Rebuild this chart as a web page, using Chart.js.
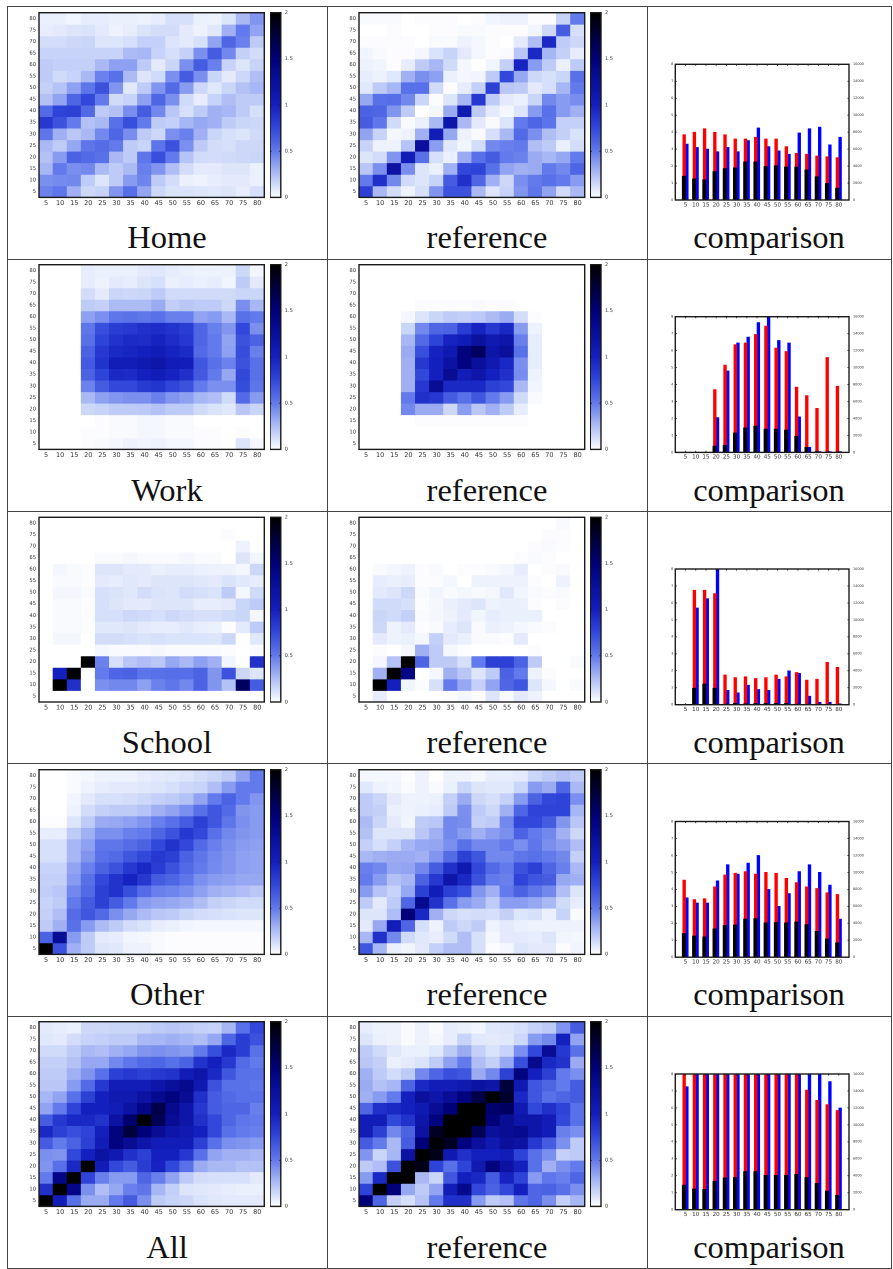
<!DOCTYPE html>
<html><head><meta charset="utf-8">
<style>
html,body{margin:0;padding:0;background:#fff;width:893px;height:1269px;overflow:hidden}
canvas{position:absolute}
.rule{position:absolute;background:#444}
.cap{position:absolute;text-align:center;font-family:"Liberation Serif",serif;font-size:32.5px;line-height:40px;color:#111;height:40px}
</style>
<script src="https://cdn.jsdelivr.net/npm/chart.js@4"></script>
</head><body>
<script>
const ageLabels=['5','10','15','20','25','30','35','40','45','50','55','60','65','70','75','80'];
const rowLevels=[80,75,70,65,60,55,50,45,40,35,30,25,20,15,10,5];
const rowNames=['Home','Work','School','Other','All'];
const refName='reference', cmpName='comparison';

const homeSim=[
[.06,.06,.04,.07,.07,.06,.06,.05,.07,.12,.12,.06,.05,.1,.27,.4],
[.07,.08,.1,.11,.08,.05,.07,.11,.13,.13,.08,.05,.09,.3,.5,.35],
[.13,.13,.15,.16,.1,.1,.12,.18,.18,.1,.08,.12,.35,.6,.48,.2],
[.17,.17,.17,.17,.17,.17,.26,.28,.17,.12,.18,.42,.65,.45,.18,.13],
[.2,.18,.18,.18,.27,.36,.36,.2,.08,.16,.42,.65,.48,.17,.1,.17],
[.2,.14,.17,.27,.47,.55,.26,.1,.14,.42,.65,.42,.16,.08,.15,.25],
[.18,.23,.36,.52,.7,.4,.09,.2,.4,.58,.38,.15,.09,.16,.24,.28],
[.24,.35,.6,.75,.5,.14,.17,.36,.6,.42,.14,.07,.17,.25,.2,.2],
[.58,.78,.8,.58,.2,.24,.43,.65,.45,.22,.12,.2,.3,.28,.2,.12],
[.85,.7,.5,.24,.27,.55,.72,.5,.2,.18,.28,.33,.3,.2,.16,.15],
[.52,.3,.22,.27,.45,.6,.43,.2,.15,.42,.48,.3,.16,.12,.1,.14],
[.27,.2,.33,.52,.57,.5,.2,.17,.53,.7,.42,.2,.13,.12,.15,.15],
[.24,.38,.62,.58,.55,.27,.2,.52,.72,.5,.23,.14,.13,.14,.15,.16],
[.28,.5,.42,.45,.26,.2,.26,.48,.4,.25,.13,.08,.08,.1,.1,.06],
[.42,.44,.45,.2,.1,.2,.38,.46,.2,.13,.06,.05,.07,.08,.08,.06],
[.47,.52,.3,.15,.17,.4,.56,.34,.15,.11,.11,.1,.09,.1,.07,.12]];
const homeRef=[
[.02,.02,.02,0,.01,.01,.01,0,.01,.04,.05,.05,.01,.01,.17,.5],
[0,0,.01,0,0,.01,.01,.02,.02,.01,.01,.01,.04,.15,.65,.12],
[.01,.01,.01,.01,0,.02,.02,.05,.03,.01,0,.08,.25,.95,.2,.15],
[.04,.02,.01,.01,.03,.11,.17,.08,.03,.01,.02,.22,.95,.28,.18,.07],
[.05,.04,.01,.07,.2,.28,.14,.03,0,.04,.18,.98,.38,.2,.06,.2],
[.07,.05,.09,.3,.42,.36,.06,.03,.04,.2,.75,.33,.15,.12,.16,.55],
[.09,.2,.28,.55,.55,.14,.01,.07,.18,.8,.22,.2,.08,.12,.28,.5],
[.33,.55,.56,.45,.16,.01,.1,.28,.85,.2,.08,.06,.16,.45,.38,.43],
[.62,.6,.4,.2,0,.03,.32,1.1,.2,.08,.03,.1,.38,.55,.38,.3],
[.65,.52,.14,.02,.06,.27,1.15,.27,.08,.02,.1,.5,.6,.53,.18,.18],
[.35,.17,.03,.05,.3,1.05,.33,.05,.02,.12,.27,.58,.42,.25,.18,.11],
[.17,.05,.05,.23,1.25,.37,.09,.04,.13,.45,.48,.5,.25,.2,.06,.13],
[.1,.13,.4,1.05,.55,.12,.06,.32,.55,.65,.5,.47,.32,.28,.33,.5],
[.22,.42,1.2,.43,.1,.06,.3,.75,.78,.55,.35,.3,.32,.5,.45,.6],
[.5,.9,.45,.14,.1,.17,.65,.9,.6,.3,.15,.42,.5,.55,.5,.38],
[.8,.27,.13,.05,.12,.4,.7,.7,.27,.1,.17,.4,.52,.35,.14,.27]];
const workSim=[
[0,0,0,.07,.06,.06,.06,.08,.09,.07,.06,.05,.05,.05,.15,.04],
[0,0,0,.07,.05,.08,.07,.1,.12,.06,.07,.06,.07,.04,.2,.08],
[0,0,0,.13,.08,.16,.15,.16,.2,.14,.14,.14,.14,.14,.16,.16],
[0,0,0,.2,.18,.26,.26,.26,.32,.19,.22,.2,.2,.15,.43,.28],
[0,0,0,.36,.42,.52,.54,.52,.55,.48,.48,.35,.38,.27,.55,.5],
[0,0,0,.52,.72,.82,.85,.9,.92,.88,.82,.6,.48,.4,.75,.42],
[0,0,0,.55,.78,.88,.93,.92,.98,.92,.85,.6,.5,.35,.7,.62],
[0,0,0,.62,.85,.95,.97,1,1.05,.98,.93,.58,.5,.36,.73,.48],
[0,0,0,.66,.88,1.05,1.05,1.1,1.15,1.05,1.03,.68,.55,.47,.7,.55],
[0,0,0,.62,.78,.95,.93,1,1.05,.98,.9,.66,.5,.33,.75,.55],
[0,0,0,.47,.65,.75,.75,.83,.87,.76,.7,.5,.42,.42,.73,.52],
[0,0,0,.27,.36,.4,.42,.42,.48,.4,.36,.28,.25,.14,.58,.38],
[0,0,0,.15,.17,.2,.2,.21,.24,.2,.2,.14,.11,.09,.22,.16],
[0,0,0,0,.01,.02,.02,.03,.03,.02,.02,0,0,0,0,0],
[0,0,0,.01,.01,.02,.02,.03,.03,.02,.02,.01,.01,0,.01,0],
[0,0,0,.01,.02,.03,.05,.04,.05,.03,.03,.01,.01,0,.1,.03]];
const workRef=[
[0,0,0,0,0,0,0,0,0,0,0,0,0,0,0,0],
[0,0,0,0,0,0,0,0,0,0,0,0,0,0,0,0],
[0,0,0,0,0,0,0,0,0,0,0,0,0,0,0,0],
[0,0,0,0,.01,.01,.01,.01,.02,.01,.01,0,0,0,0,0],
[0,0,0,.03,.1,.16,.2,.19,.21,.26,.32,.13,.01,0,0,0],
[0,0,0,.16,.45,.6,.62,.82,.98,.85,.95,.38,.05,0,0,0],
[0,0,0,.28,.58,.78,.98,1.05,1.22,1.1,1.15,.48,.07,0,0,0],
[0,0,0,.32,.72,.98,1.1,1.45,1.6,1.15,1.25,.55,.07,0,0,0],
[0,0,0,.3,.85,1,1.2,1.45,1.25,1.1,.95,.42,.07,0,0,0],
[0,0,0,.3,.75,1,1.3,1.05,1.15,1,.9,.43,.05,0,0,0],
[0,0,0,.3,.85,1.3,.95,.95,.95,.8,.75,.27,.04,0,0,0],
[0,0,0,.5,.9,.85,.65,.55,.68,.5,.38,.14,.02,0,0,0],
[0,0,0,.45,.32,.32,.15,.37,.22,.3,.2,.07,0,0,0,0],
[0,0,0,0,.01,.01,.01,.01,.01,.01,.01,.01,0,0,0,0],
[0,0,0,0,0,0,0,0,0,0,0,0,0,0,0,0],
[0,0,0,0,0,0,0,0,0,0,0,0,0,0,0,0]];
const schoolSim=[
[0,0,0,0,0,0,0,0,0,0,0,0,0,0,0,0],
[0,0,0,0,0,0,0,0,0,0,0,0,0,.01,0,0],
[0,0,0,0,0,0,0,0,0,0,0,0,0,0,.05,0],
[0,0,0,0,.02,.02,.03,.02,.02,.02,.03,.02,.02,0,.1,.04],
[0,.03,.02,.01,.1,.1,.08,.08,.06,.07,.07,.06,.05,.05,.03,.15],
[0,.02,.02,.01,.08,.07,.09,.08,.1,.1,.1,.09,.08,.11,.09,.07],
[0,.03,.03,.02,.12,.11,.09,.13,.11,.1,.13,.12,.11,.2,.03,.14],
[0,.02,.02,.01,.12,.1,.08,.08,.1,.1,.1,.07,.07,.08,.16,.2],
[0,.02,.02,.01,.12,.12,.15,.14,.12,.15,.13,.12,.12,.14,.16,.03],
[0,.02,.02,.01,.09,.09,.1,.08,.07,.07,.09,.07,.06,.01,.08,.2],
[0,.03,.03,0,.13,.13,.12,.11,.12,.11,.11,.11,.1,.15,0,.09],
[0,0,0,0,.03,.02,.02,.02,.03,.02,.02,.02,.02,.01,0,.02],
[0,0,0,2,.47,.12,.22,.25,.22,.33,.27,.36,.3,.04,0,.9],
[0,1,2,0,.5,.6,.62,.53,.55,.56,.56,.62,.4,.7,.15,.1],
[0,2,.9,0,.42,.45,.45,.36,.47,.52,.45,.62,.4,.24,1.6,.65],
[0,0,0,0,0,0,0,0,0,0,0,0,0,0,0,0]];
const schoolRef=[
[0,0,0,0,0,0,0,0,0,0,0,0,0,0,.02,0],
[0,0,0,0,0,0,0,0,0,0,0,0,0,.01,.01,0],
[0,0,0,0,0,0,0,0,0,0,0,0,.01,.02,.01,0],
[0,0,0,0,0,0,0,0,0,0,0,.01,.02,.01,0,0],
[0,.02,.03,.05,.01,.02,0,.01,.01,.02,.03,.07,0,.01,.02,0],
[0,.07,.06,.07,.01,.01,.03,0,.05,.05,.05,.05,.01,0,.05,0],
[0,.08,.1,.15,.02,.04,.02,.03,.02,.03,.09,.04,.02,.01,.02,0],
[0,.14,.14,.12,.01,.03,.06,.08,.1,.05,.06,.06,.01,0,.01,0],
[0,.16,.14,.18,.02,.03,.05,.08,.04,.07,.06,.06,.06,0,0,0],
[0,.15,.05,.08,.01,.02,.07,.1,.02,.06,.05,.03,.02,.01,0,0],
[0,.08,.05,.06,.03,.18,.08,.06,.02,.02,.01,.08,0,0,0,0],
[0,.01,0,.03,.3,.2,.03,.01,0,0,0,0,.01,0,0,0],
[0,.03,.23,2,.6,.2,.2,.12,.5,.8,.8,.62,.2,0,0,.02],
[0,.3,2,1.4,0,.03,.3,.22,.1,.2,.62,.5,.05,.01,0,0],
[0,2,1,.04,.01,.12,.5,.33,.18,.35,.6,.68,.1,.03,0,.02],
[0,.07,0,0,0,0,.01,.03,.01,.1,.02,.08,.05,0,0,0]];
const otherSim=[
[0,0,.02,.03,.05,.05,.05,.07,.08,.09,.1,.13,.16,.2,.35,.5],
[0,0,.02,.05,.07,.08,.08,.09,.1,.12,.15,.17,.25,.38,.5,.5],
[0,0,.04,.08,.12,.12,.13,.15,.18,.2,.24,.35,.5,.62,.5,.4],
[0,0,.05,.13,.18,.2,.2,.23,.3,.35,.42,.55,.68,.58,.4,.38],
[.01,.01,.1,.2,.32,.33,.36,.4,.48,.55,.65,.8,.68,.52,.42,.38],
[.07,.07,.2,.3,.42,.42,.48,.5,.6,.7,.85,.75,.55,.45,.4,.38],
[.12,.12,.28,.36,.52,.52,.57,.62,.75,.88,.75,.58,.48,.42,.38,.36],
[.12,.12,.28,.4,.55,.58,.68,.75,.85,.8,.62,.52,.45,.4,.36,.35],
[.17,.17,.35,.48,.62,.7,.85,.95,.82,.7,.58,.5,.44,.4,.36,.35],
[.18,.18,.38,.55,.75,.88,.98,.85,.65,.6,.52,.42,.38,.36,.33,.33],
[.19,.22,.45,.58,.8,.88,.72,.57,.48,.46,.42,.36,.3,.28,.25,.22],
[.17,.2,.5,.65,.8,.65,.5,.38,.35,.33,.3,.25,.18,.16,.14,.14],
[.18,.25,.57,.68,.58,.42,.33,.26,.22,.2,.16,.13,.12,.11,.1,.1],
[.2,.3,.55,.38,.26,.2,.13,.11,.07,.06,.04,.03,.03,.03,.03,.03],
[.62,1.3,.38,.2,.08,.07,.04,.03,.02,.01,.01,.01,.01,.01,.01,.01],
[2,.7,.3,.2,.1,.09,.05,.05,.02,.01,.01,.01,.01,.01,.01,.01]];
const otherRef=[
[.03,.03,.03,.01,.05,0,.05,.05,.03,.07,.07,.08,.16,.2,.24,.2],
[.09,.05,.04,.02,.05,.02,.06,.16,.1,.09,.09,.16,.38,.32,.6,.27],
[.2,.16,.08,.05,.05,.06,.18,.32,.15,.12,.18,.38,.62,.75,.78,.42],
[.2,.18,.06,.05,.06,.07,.2,.42,.2,.15,.3,.6,.78,.78,.78,.28],
[.26,.16,.08,.04,.2,.22,.45,.43,.18,.2,.45,.75,.75,.65,.4,.22],
[.24,.1,.1,.1,.22,.3,.45,.38,.3,.37,.42,.62,.5,.45,.3,.15],
[.18,.12,.18,.28,.33,.34,.42,.55,.45,.45,.5,.42,.52,.42,.37,.25],
[.27,.3,.32,.32,.3,.4,.57,.8,.68,.45,.45,.52,.55,.5,.45,.18],
[.48,.45,.33,.35,.45,.65,.9,1.1,.75,.58,.5,.7,.8,.6,.48,.27],
[.5,.38,.24,.28,.62,.85,1.15,.95,.7,.5,.48,.78,.68,.65,.33,.3],
[.38,.23,.17,.33,.8,1.05,.8,.72,.4,.3,.5,.62,.52,.45,.25,.1],
[.2,.08,.2,.6,1.35,.88,.55,.38,.32,.2,.37,.37,.33,.27,.14,.07],
[.1,.1,.25,1.5,.95,.3,.15,.12,.13,.12,.18,.1,.12,.06,.17,.02],
[.08,.33,1.05,.6,.12,.05,.2,.15,.2,.05,.08,.06,.05,.05,.05,.05],
[.28,.9,.45,.14,.09,.07,.14,.25,.12,.03,.08,.08,.07,.1,.04,.03],
[.68,.28,.06,.04,.08,.18,.25,.25,.12,.01,.03,.1,.08,.08,.01,.04]];
const allSim=[
[.08,.07,.06,.15,.15,.16,.16,.17,.2,.22,.2,.18,.17,.28,.55,.75],
[.09,.08,.13,.17,.18,.2,.2,.27,.28,.3,.28,.25,.33,.6,.82,.7],
[.14,.14,.2,.27,.25,.3,.33,.4,.42,.4,.38,.5,.72,.95,.82,.55],
[.18,.18,.24,.33,.33,.45,.52,.58,.6,.55,.62,.88,1,.85,.58,.5],
[.2,.2,.3,.4,.55,.8,.85,.8,.85,.88,1.05,1.15,.95,.68,.55,.55],
[.22,.22,.38,.58,.85,1.05,1.05,1.05,1.15,1.25,1.35,1.1,.7,.55,.55,.52],
[.28,.35,.55,.8,1,1.1,1.1,1.2,1.35,1.45,1.3,.9,.65,.58,.55,.55],
[.35,.5,.78,1,1,1.05,1.2,1.4,1.7,1.35,1.15,.85,.65,.6,.6,.48],
[.65,.85,.95,.95,.88,1.2,1.55,2,1.65,1.3,1.15,.9,.75,.6,.52,.5],
[.95,.8,.72,.78,1,1.45,1.75,1.5,1.3,1.15,1.1,1,.75,.55,.5,.48],
[.65,.5,.62,.8,1.05,1.45,1.3,1.15,1.05,1.05,1.05,.8,.55,.42,.4,.38],
[.42,.4,.75,1,1.2,1.1,.9,.8,1,1,.85,.55,.35,.3,.3,.28],
[.4,.55,.95,2,1.05,.75,.65,.82,.98,.75,.55,.32,.27,.27,.24,.24],
[.5,1.4,2,.78,.48,.38,.38,.6,.48,.35,.2,.13,.12,.12,.12,.08],
[.9,2,1.4,.42,.25,.33,.48,.52,.28,.18,.1,.09,.08,.07,.06,.06],
[2,1.05,.55,.32,.32,.5,.65,.42,.2,.17,.15,.11,.09,.08,.08,.08]];
const allRef=[
[.07,.05,.05,.02,.05,.02,.07,.06,.04,.09,.1,.12,.17,.2,.4,.65],
[.1,.06,.05,.02,.05,.03,.07,.17,.09,.08,.09,.15,.38,.45,1,.35],
[.2,.14,.09,.06,.06,.09,.2,.32,.18,.11,.17,.42,.75,1.3,.85,.55],
[.22,.18,.06,.08,.11,.2,.36,.5,.25,.18,.33,.72,1.35,.95,.88,.32],
[.3,.2,.13,.2,.45,.6,.72,.68,.32,.45,.8,1.45,1,.8,.5,.42],
[.32,.24,.28,.6,.95,1.05,1.05,1.1,1.2,1.15,1.75,1.1,.68,.6,.5,.65],
[.3,.38,.5,1,1.25,1.15,1.3,1.45,1.7,2,1.8,.95,.68,.55,.6,.65],
[.6,.9,.95,1,1.1,1.3,1.5,2,2,1.55,1.6,1.1,.75,.9,.78,.55],
[1.05,1.05,.75,.88,1.15,1.45,2,2,2,1.5,1.3,1.15,1.15,1.05,.75,.55],
[1.05,.8,.45,.62,1.2,1.85,2,2,1.65,1.25,1.3,1.35,1.15,1.05,.48,.42],
[.65,.5,.27,.65,1.5,2,1.85,1.45,1.25,1.1,1.25,1.2,.85,.65,.42,.2],
[.4,.16,.28,1.2,2,1.9,1.1,.9,1,1,1.05,.78,.55,.42,.18,.2],
[.2,.25,.7,2,1.9,.78,.55,.78,1.1,1.45,1.2,1,.55,.3,.42,.5],
[.38,.95,2,2,.27,.16,.68,1,.95,.65,.98,.78,.38,.52,.48,.6],
[.78,2,1.5,.33,.2,.35,1.05,1.35,.75,.62,.75,1,.6,.62,.55,.42],
[1.5,.6,.18,.12,.23,.5,.9,.9,.38,.2,.24,.52,.6,.42,.18,.28]];

const homeRed=[3.85,4,4.2,4,3.85,3.6,3.6,3.7,3.6,3.6,3.15,2.75,2.7,2.6,2.55,2.5];
const homeBlue=[3.3,3.1,3,2.85,3.1,2.85,3.5,4.25,3.15,2.9,2.7,3.95,4.2,4.3,3.25,3.7];
const homeBlack=[2800,2500,2400,3350,3700,3800,4500,4500,3950,4050,3900,3900,3550,2750,1950,1400];
const workRed=[0,0,0,3.7,5.15,6.35,6.45,6.95,7.45,6.15,5.95,3.85,3.35,2.6,5.6,3.9];
const workBlue=[0,0,0,2.05,4.8,6.45,6.8,7.65,8,6.6,6.45,2.1,.3,.05,.05,.05];
const workBlack=[0,0,0,750,850,2300,2900,3100,2750,2750,2650,1900,600,100,50,50];
const schoolRed=[0,6.75,6.75,6.55,1.75,1.6,1.65,1.55,1.6,1.75,1.65,1.9,1.45,1.5,2.5,2.2];
const schoolBlue=[0,5.7,6.25,8,.85,.7,1.15,.9,.85,1.5,2,1.85,.5,.15,.15,.05];
const schoolBlack=[0,1950,2450,1950,50,150,100,150,150,150,150,50,0,0,0,0];
const otherRed=[4.55,3.4,3.45,4.15,4.85,4.95,5.05,4.9,5,4.95,4.65,4.4,4.15,4.05,3.8,3.7];
const otherBlue=[3.5,3.2,3.2,4.5,5.45,4.9,5.55,6,4,3,3.75,5.05,5.45,5,4.25,2.25];
const otherBlack=[2800,2500,2400,3350,3750,3800,4500,4550,4050,4100,4050,4150,3850,3050,2150,1700];
const allRed=[8,8,8,8,8,8,8,8,8,8,8,8,7.05,6.45,6.2,5.85];
const allBlue=[7.25,8,8,8,8,8,8,8,8,8,8,8,8,8,7.55,6];
const allBlack=[2900,2450,2400,3350,3750,3800,4500,4500,4050,4050,4050,4150,3800,3100,2200,1700];

const colorTicks=[0,.5,1,1.5,2];
const palette=[[0,255,255,255],[.12,214,224,250],[.25,176,190,245],[.5,98,122,235],[.75,50,72,218],[1,20,32,190],[1.5,0,0,120],[2,0,0,0]];
function shade(v){
  v=Math.max(0,Math.min(2,v));
  for(let i=1;i<palette.length;i++){
    if(v<=palette[i][0]){
      const a=palette[i-1],b=palette[i],t=(v-a[0])/(b[0]-a[0]);
      return 'rgb('+[1,2,3].map(k=>Math.round(a[k]+(b[k]-a[k])*t)).join(',')+')';
    }
  }
  return 'rgb(0,0,0)';
}

Chart.defaults.font.family='"DejaVu Sans",sans-serif';
Chart.defaults.animation=false;
Chart.defaults.responsive=false;
Chart.defaults.plugins.legend.display=false;
Chart.defaults.plugins.tooltip.enabled=false;

const framePlugin={id:'frame',afterDatasetsDraw(ch,_,o){
  const a=ch.chartArea,c=ch.ctx;c.save();
  c.strokeStyle='#1a1a1a';c.lineWidth=1.4;c.strokeRect(a.left,a.top,a.right-a.left,a.bottom-a.top);
  if(o.marks){
    c.lineWidth=.8;c.beginPath();
    for(const id of Object.keys(ch.scales)){
      const s=ch.scales[id];
      if(!s.options.display)continue;
      s.ticks.forEach((t,i)=>{
        const p=s.getPixelForTick(i);
        if(s.isHorizontal()){
          if(!t.label)return;
          c.moveTo(p,a.bottom);c.lineTo(p,a.bottom-1.6);c.moveTo(p,a.top);c.lineTo(p,a.top+1.6);
        }else if(s.position==='left'){
          c.moveTo(a.left,p);c.lineTo(a.left+1.6,p);
        }else{
          c.moveTo(a.right,p);c.lineTo(a.right-1.6,p);
          if(o.both){c.moveTo(a.left,p);c.lineTo(a.left+1.6,p);}
        }
      });
    }
    c.stroke();
  }
  c.restore();
}};
Chart.register(framePlugin);

function slot(L,T,R,B,lw,rw,bh){
  const cv=document.createElement('canvas');
  const cx=Math.floor(L-lw),cy=Math.floor(T-4),cw=Math.ceil(R+rw)-cx,ch=Math.ceil(B+bh)-cy;
  cv.width=cw;cv.height=ch;cv.style.left=cx+'px';cv.style.top=cy+'px';cv.style.width=cw+'px';cv.style.height=ch+'px';
  document.body.appendChild(cv);
  return {cv,padding:{left:L-lw-cx,top:T-cy,right:cx+cw-(R+rw),bottom:cy+ch-(B+bh)}};
}
const noPad=s=>{s.paddingTop=0;s.paddingBottom=0;s.paddingLeft=0;s.paddingRight=0};
const fixW=w=>s=>{s.width=w;noPad(s)};
const fixH=h=>s=>{s.height=h;noPad(s)};
const plainTick=v=>String(v);

function heatmap(matrix,L,T,R,B){
  const {cv,padding}=slot(L,T,R,B,30,1,14);
  padding.right+=1;
  const datasets=matrix.map((row,r)=>({
    data:row.map(()=>[rowLevels[r]-2.5,rowLevels[r]+2.5]),
    backgroundColor:row.map(v=>shade(v)),
    borderWidth:0,inflateAmount:.4,
    barPercentage:1,categoryPercentage:1,grouped:false
  }));
  new Chart(cv,{type:'bar',data:{labels:ageLabels,datasets},options:{
    devicePixelRatio:2,
    layout:{padding,autoPadding:false},
    plugins:{frame:{marks:false}},
    scales:{
      x:{grid:{display:false,drawTicks:false},border:{display:false},afterFit:fixH(14),
         ticks:{padding:2,font:{size:6.5},color:'#333',autoSkip:false,maxRotation:0}},
      y:{min:2.5,max:82.5,grid:{display:false,drawTicks:false},border:{display:false},afterFit:fixW(30),
         afterBuildTicks:s=>{s.ticks=rowLevels.slice().reverse().map(v=>({value:v}))},
         ticks:{padding:3,font:{size:5.2},color:'#333',autoSkip:false}}
    }
  }});
}
function colorbar(L,T,R,B){
  const {cv,padding}=slot(L,T,R,B,0,14,4);
  padding.bottom+=4;
  new Chart(cv,{type:'bar',data:{labels:[''],datasets:[{data:[[0,2]],borderWidth:0,barPercentage:1,categoryPercentage:1,
    backgroundColor(c){
      const a=c.chart.chartArea;if(!a)return '#00f';
      const g=c.chart.ctx.createLinearGradient(0,a.bottom,0,a.top);
      palette.forEach(p=>g.addColorStop(p[0]/2,'rgb('+p[1]+','+p[2]+','+p[3]+')'));
      return g;
    }}]},options:{
    devicePixelRatio:2,
    layout:{padding,autoPadding:false},
    plugins:{frame:{marks:true,both:true}},
    scales:{
      x:{display:false},
      y:{position:'right',min:0,max:2,grid:{display:false,drawTicks:false},border:{display:false},afterFit:fixW(14),
         afterBuildTicks:s=>{s.ticks=colorTicks.map(v=>({value:v}))},
         ticks:{padding:4,font:{size:5},color:'#333',autoSkip:false,callback:plainTick}}
    }
  }});
}
function comparison(red,blue,black,L,T,R,B){
  const {cv,padding}=slot(L,T,R,B,7,16,9);
  const labels=['',...ageLabels,''];
  const pad=a=>[null,...a,null];
  new Chart(cv,{type:'bar',data:{labels,datasets:[
    {data:pad(black),backgroundColor:'#000',xAxisID:'x2',yAxisID:'y2',barThickness:3.3,order:0},
    {data:pad(red),backgroundColor:'#f00',xAxisID:'x',yAxisID:'y',barThickness:2.7,order:1},
    {data:pad(blue),backgroundColor:'#00f',xAxisID:'x',yAxisID:'y',barThickness:2.7,order:1}
  ]},options:{
    devicePixelRatio:2,
    layout:{padding,autoPadding:false},
    plugins:{frame:{marks:true}},
    scales:{
      x:{offset:false,grid:{display:false,drawTicks:false},border:{display:false},afterFit:fixH(9),
         ticks:{padding:1.5,font:{size:5.6},color:'#333',autoSkip:false,maxRotation:0}},
      x2:{offset:false,display:false,labels},
      y:{min:0,max:8,grid:{display:false,drawTicks:false},border:{display:false},afterFit:fixW(7),
         ticks:{stepSize:1,padding:2,font:{size:3.4},color:'#333',autoSkip:false,callback:plainTick}},
      y2:{position:'right',min:0,max:16000,grid:{display:false,drawTicks:false},border:{display:false},afterFit:fixW(16),
         ticks:{stepSize:2000,padding:4,font:{size:3.4},color:'#333',autoSkip:false,callback:plainTick}}
    }
  }});
}
function rule(x,y,w,h){const d=document.createElement('div');d.className='rule';d.style.cssText=`left:${x}px;top:${y}px;width:${w}px;height:${h}px`;document.body.appendChild(d);}
function cap(t,x0,x1,y){const d=document.createElement('div');d.className='cap';d.textContent=t;d.style.cssText=`left:${x0}px;width:${x1-x0}px;top:${y}px`;document.body.appendChild(d);}

const rowLines=[6,259,511,763,1016,1268];
[7,327,647,891].forEach(x=>rule(x,6,1,1263));
rowLines.forEach(y=>rule(7,y,885,1));

const heatTops=[12.7,264.7,517.3,769.7,1021.7];
const barTops=[64.3,316.7,569,821.5,1074];
const sims=[homeSim,workSim,schoolSim,otherSim,allSim];
const refs=[homeRef,workRef,schoolRef,otherRef,allRef];
const reds=[homeRed,workRed,schoolRed,otherRed,allRed];
const blues=[homeBlue,workBlue,schoolBlue,otherBlue,allBlue];
const blacks=[homeBlack,workBlack,schoolBlack,otherBlack,allBlack];
rowNames.forEach((n,i)=>{
  const t=heatTops[i],b=t+184.7;
  heatmap(sims[i],39,t,264.3,b);
  colorbar(270,t,280.8,b);
  heatmap(refs[i],359,t,584.7,b);
  colorbar(590.3,t,601,b);
  comparison(reds[i],blues[i],blacks[i],675.3,barTops[i],849,barTops[i]+135.7);
  const y=217+rowLines[i]-6;
  cap(n,7,327,y);cap(refName,327,647,y);cap(cmpName,647,891,y);
});
</script>
</body></html>
